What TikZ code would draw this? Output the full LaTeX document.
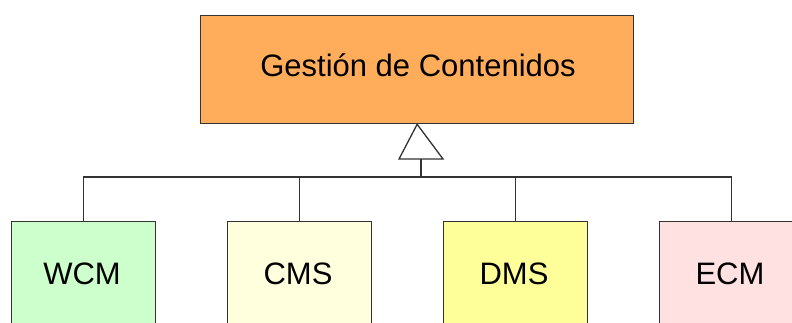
\documentclass[tikz,border=0pt]{standalone}
\usepackage{fontspec}
\setmainfont{Liberation Sans}
\definecolor{boxline}{HTML}{333333}
\definecolor{orangefill}{HTML}{FFAD5B}
\definecolor{greenfill}{HTML}{CCFFCC}
\definecolor{creamfill}{HTML}{FFFFDD}
\definecolor{yellowfill}{HTML}{FFFF99}
\definecolor{pinkfill}{HTML}{FFE1E1}
\begin{document}
\begin{tikzpicture}[x=1pt,y=-1pt,
  box/.style={draw=boxline, line width=1.3pt, inner sep=0pt, anchor=north west},
  lbl/.style={anchor=base, inner sep=0pt, font=\fontsize{31}{37}\selectfont},
  link/.style={draw=boxline, line width=1.3pt}]
\useasboundingbox (0,0) rectangle (792,323);
% parent class
\node[box, fill=orangefill, minimum width=433pt, minimum height=108pt] (top) at (200,15) {};
\node[lbl] (toplbl) at (418,76.7) {Gestión de Contenidos};
% child classes (cut by the page edge)
\node[box, fill=greenfill, minimum width=144pt, minimum height=140pt] (wcm) at (11,221) {};
\node[box, fill=creamfill, minimum width=144pt, minimum height=140pt] (cms) at (227,221) {};
\node[box, fill=yellowfill, minimum width=144pt, minimum height=140pt] (dms) at (443,221) {};
\node[box, fill=pinkfill, minimum width=144pt, minimum height=140pt] (ecm) at (659,221) {};
\node[lbl] (wcmlbl) at (82,284.5) {WCM};
\node[lbl] (cmslbl) at (298,284.5) {CMS};
\node[lbl] (dmslbl) at (514,284.5) {DMS};
\node[lbl] (ecmlbl) at (730,284.5) {ECM};
% inheritance triangle
\coordinate (apex) at (top.south);
\coordinate (bl) at (399,159);
\coordinate (br) at (443,159);
\draw[link, fill=white, line join=miter] (apex) -- (br) -- (bl) -- cycle;
\coordinate (base) at (421,159);
\coordinate (bus) at (421,177);
\draw[link] (base) -- (bus);
\draw[link] (wcm.north) |- (bus) -| (ecm.north);
\draw[link] (cms.north) -- (cms.north |- bus);
\draw[link] (dms.north) -- (dms.north |- bus);
\end{tikzpicture}
\end{document}
